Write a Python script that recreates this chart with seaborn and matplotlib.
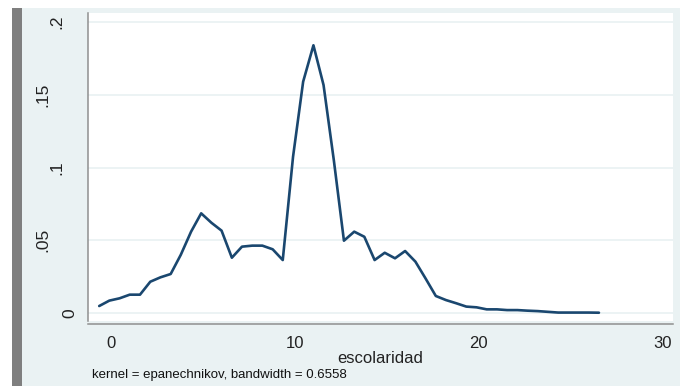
import matplotlib
matplotlib.use("Agg")
import matplotlib.pyplot as plt
import matplotlib.transforms as mtransforms
from matplotlib.patches import Rectangle
import seaborn as sns
import pandas as pd

# ---- data (kernel density of escolaridad) ----
escolaridad = [-0.64, -0.09, 0.47, 1.02, 1.58, 2.14, 2.69, 3.25, 3.80, 4.36,
               4.91, 5.47, 6.02, 6.58, 7.13, 7.69, 8.24, 8.80, 9.35, 9.91,
               10.46, 11.02, 11.57, 12.13, 12.68, 13.24, 13.79, 14.35, 14.90, 15.46,
               16.01, 16.57, 17.12, 17.68, 18.23, 18.79, 19.34, 19.90, 20.45, 21.01,
               21.56, 22.12, 22.67, 23.23, 23.78, 24.34, 24.89, 25.45, 26.00, 26.56]
densidad = [0.0048, 0.0085, 0.0101, 0.0126, 0.0126, 0.0215, 0.0245, 0.0268, 0.0400, 0.0559,
            0.0685, 0.0620, 0.0566, 0.0380, 0.0456, 0.0463, 0.0463, 0.0438, 0.0364, 0.1074,
            0.1590, 0.1840, 0.1567, 0.1050, 0.0497, 0.0559, 0.0524, 0.0364, 0.0414, 0.0376,
            0.0426, 0.0353, 0.0238, 0.0117, 0.0089, 0.0067, 0.0044, 0.0039, 0.0025, 0.0025,
            0.0020, 0.0020, 0.0016, 0.0013, 0.0008, 0.0003, 0.0003, 0.0003, 0.0003, 0.0002]
x_ticks = [0, 10, 20, 30]
x_ticklabels = ["0", "10", "20", "30"]
y_ticks = [0, 0.05, 0.10, 0.15, 0.20]
y_ticklabels = ["0", ".05", ".1", ".15", ".2"]
x_label = "escolaridad"
note = "kernel = epanechnikov, bandwidth = 0.6558"

df = pd.DataFrame({"escolaridad": escolaridad, "densidad": densidad})

sns.set_theme(style="white")
plt.rcParams["font.family"] = ["Liberation Sans", "DejaVu Sans"]

W, H = 680, 386
fig = plt.figure(figsize=(W / 100, H / 100), dpi=100)
fig.patch.set_facecolor("white")

BG = "#eaf2f3"
# light background panel and grey strip at left
fig.add_artist(Rectangle((22 / W, 0), (W - 22) / W, (H - 8) / H,
                         transform=fig.transFigure, facecolor=BG, edgecolor="none", zorder=0))
fig.add_artist(Rectangle((12 / W, 0), 10 / W, (H - 8) / H,
                         transform=fig.transFigure, facecolor="#7f7f7f", edgecolor="none", zorder=0))

ax = fig.add_axes([88 / W, 65 / H, 585 / W, 308 / H])
ax.set_facecolor("white")

sns.lineplot(data=df, x="escolaridad", y="densidad", ax=ax,
             color="#1a476f", linewidth=1.9, zorder=3)

ax.set_xlim(-1.25, 30.59)
ax.set_ylim(-0.0055, 0.2062)

ax.set_xticks(x_ticks)
ax.set_xticklabels(x_ticklabels)
ax.set_yticks(y_ticks)
ax.set_yticklabels(y_ticklabels)

ax.yaxis.grid(True, color=BG, linewidth=1.3, zorder=1)
ax.xaxis.grid(False)

for s in ["top", "right"]:
    ax.spines[s].set_visible(False)
for s in ["left", "bottom"]:
    ax.spines[s].set_color("#8f8f8f")
    ax.spines[s].set_linewidth(1.1)
ax.spines["bottom"].set_position(("outward", 2))

ax.tick_params(axis="both", which="both", direction="out", length=4.5, width=1.0,
               color="#8f8f8f", labelcolor="#222222", labelsize=12)
ax.tick_params(axis="x", pad=4)
ax.tick_params(axis="y", pad=3.5, labelsize=12.5)

# Stata-style placement of rotated y labels (horizontal shift in pixels)
y_label_shift_px = [0, -27, -13, -27, -13]
for lab, dx in zip(ax.get_yticklabels(), y_label_shift_px):
    lab.set_rotation(90)
    lab.set_va("center")
    lab.set_ha("right")
    lab.set_transform(lab.get_transform() +
                      mtransforms.ScaledTranslation(dx / 100, 0, fig.dpi_scale_trans))

ax.set_xlabel(x_label, fontsize=12, color="#222222", labelpad=0)
ax.set_ylabel("")

fig.text(92 / W, (H - 378) / H, note, fontsize=9.5, color="#111111", va="baseline", ha="left")

fig.savefig("out.png", dpi=100, facecolor=fig.get_facecolor())
